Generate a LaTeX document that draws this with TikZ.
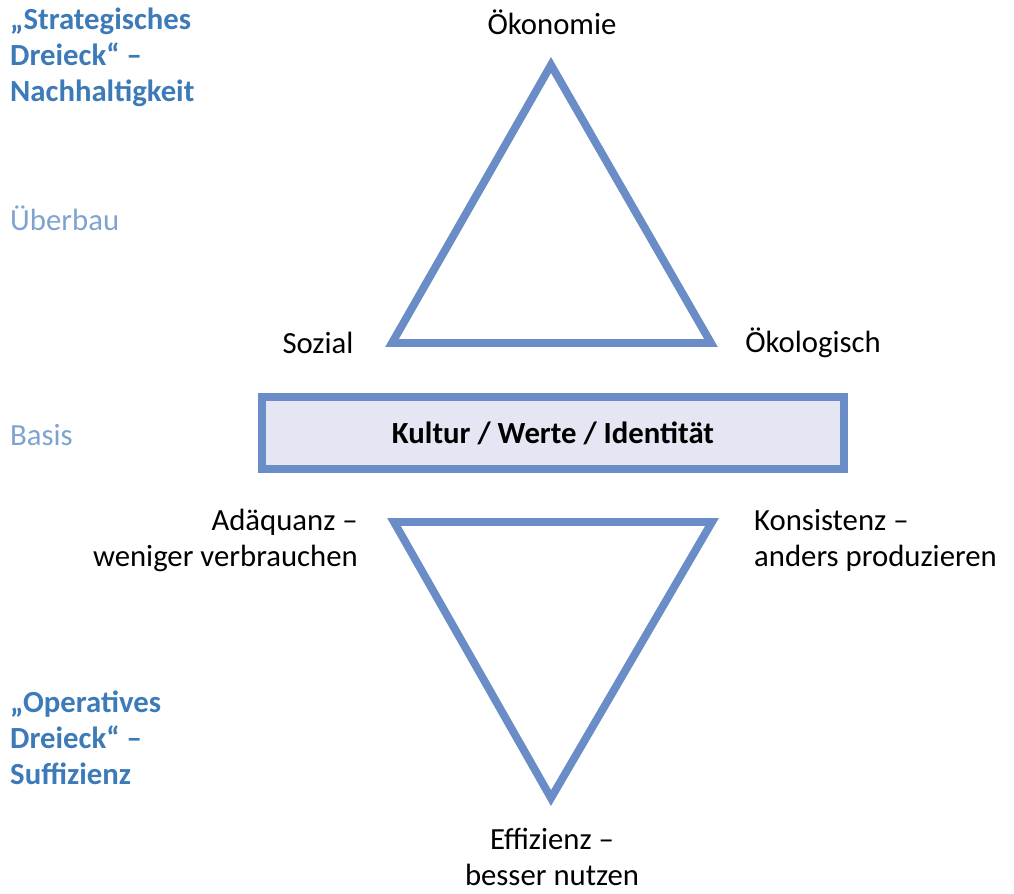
\documentclass[tikz,border=0pt]{standalone}
\usepackage{fontspec}
\setmainfont{Carlito}
\usepackage{xcolor}
\definecolor{dreieckblau}{HTML}{6A8CC7}
\definecolor{titelblau}{HTML}{3D7AB8}
\definecolor{ebeneblau}{HTML}{7FA3D0}
\definecolor{basisfill}{HTML}{E4E7F3}

\begin{document}
\begin{tikzpicture}[x=0.02cm,y=-0.02cm,
		font=\fontsize{17.5}{20.5}\selectfont,
		seite/.style={draw=dreieckblau,line width=4.5pt,line join=miter},
		titel/.style={text=titelblau,font=\fontsize{17.5}{20.5}\selectfont\bfseries,align=left,anchor=west},
		ebene/.style={text=ebeneblau,anchor=west},
		ecke/.style={align=center}]
		\useasboundingbox (0,0) rectangle (1014,893);

		% linke Spalte
		\node[titel] (strat) at (4,57) {„Strategisches\\Dreieck“ --\\Nachhaltigkeit};
		\node[ebene] (ueber) at (4,218) {Überbau};
		\node[ebene] (basis) at (4,435) {Basis};
		\node[titel] (oper) at (4,738) {„Operatives\\Dreieck“ --\\Suffizienz};

		% oberes Dreieck
		\coordinate (oben) at (551,65);
		\coordinate (links) at (392,343);
		\coordinate (rechts) at (711,343);
		\draw[seite] (oben) -- (links) -- (rechts) -- cycle;
		\node (oekonomie) at (552,22) {Ökonomie};
		\node (sozial) at (318,343) {Sozial};
		\node (oekologisch) at (813,343) {Ökologisch};

		% Basis
		\node[draw=dreieckblau,line width=4.5pt,fill=basisfill,minimum width=582*0.02cm,minimum height=72*0.02cm,font=\fontsize{17.5}{20.5}\selectfont\bfseries] (kultur) at (553,433) {Kultur / Werte / Identität};

		% unteres Dreieck
		\coordinate (ulinks) at (394,522);
		\coordinate (urechts) at (712,522);
		\coordinate (unten) at (551,798);
		\draw[seite] (ulinks) -- (urechts) -- (unten) -- cycle;
		\node[align=right,anchor=east] (adaequanz) at (364,540) {Adäquanz --\\weniger verbrauchen};
		\node[align=left,anchor=west] (konsistenz) at (748,540) {Konsistenz --\\anders produzieren};
		\node[ecke] (effizienz) at (552,857) {Effizienz --\\besser nutzen};
	\end{tikzpicture}
\end{document}
